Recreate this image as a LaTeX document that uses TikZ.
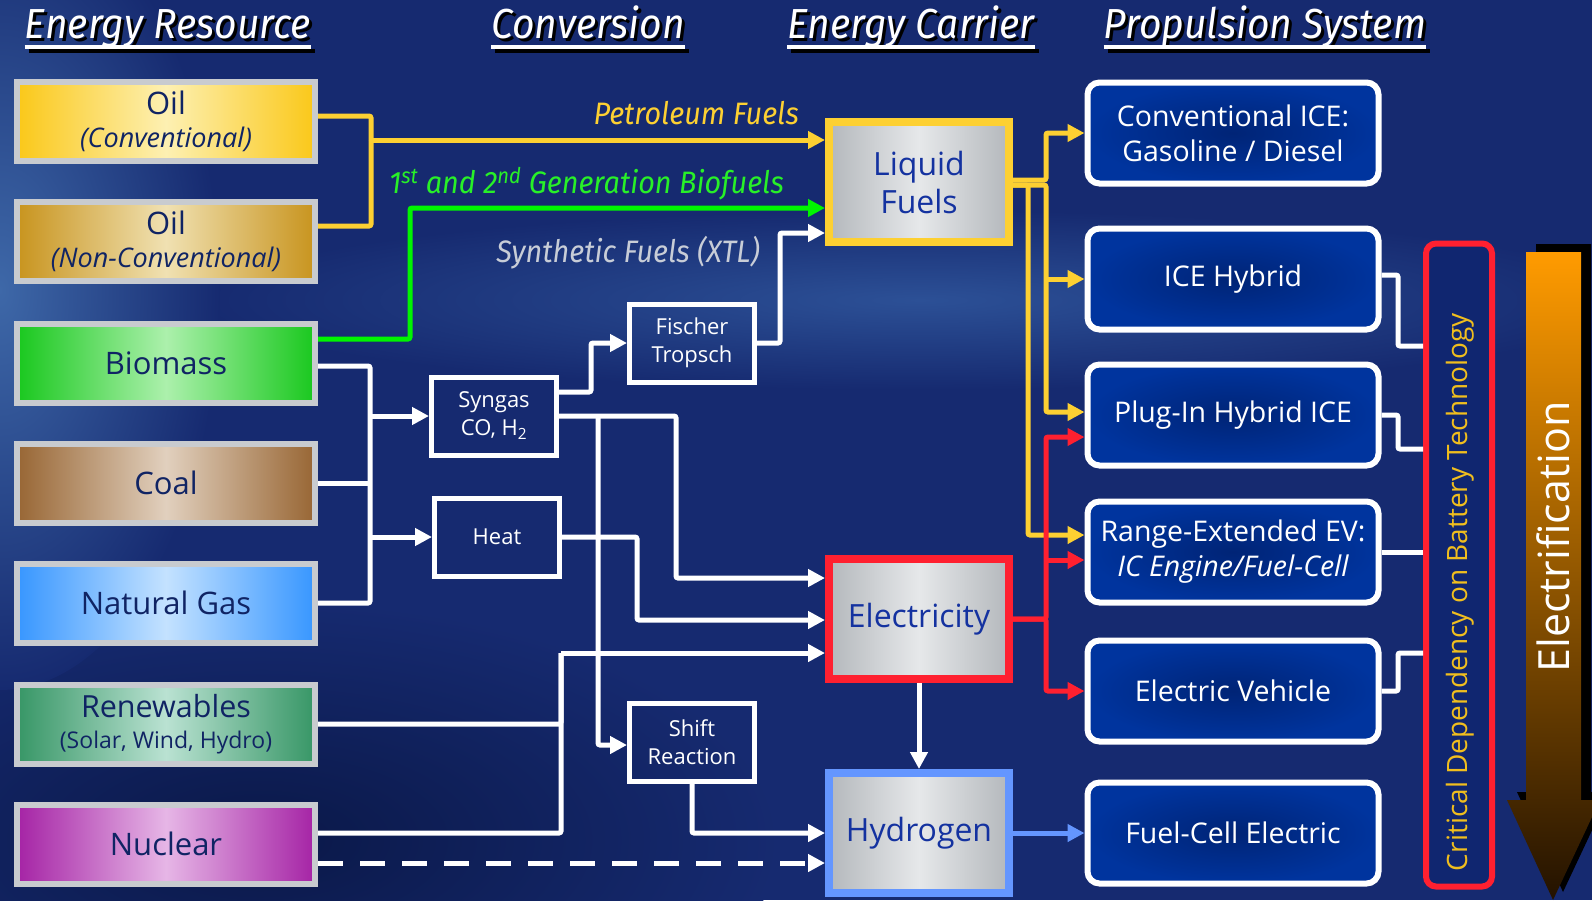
\documentclass[tikz,border=0pt]{standalone}
\usepackage{fontspec}
\setmainfont{Open Sans}
\newfontfamily\condfont[FakeStretch=0.93]{Fira Sans}
\usetikzlibrary{arrows.meta,calc}

\definecolor{bgnavy}{RGB}{22,42,112}
\definecolor{bglight}{RGB}{62,104,168}
\definecolor{bgmid}{RGB}{44,80,150}
\definecolor{bgdark}{RGB}{10,24,72}
\definecolor{resgray}{RGB}{200,203,207}
\definecolor{txtnavy}{RGB}{16,36,100}
\definecolor{oilA}{RGB}{250,200,25}
\definecolor{oilAm}{RGB}{253,240,178}
\definecolor{oilB}{RGB}{200,148,30}
\definecolor{oilBm}{RGB}{240,225,178}
\definecolor{bioC}{RGB}{25,200,30}
\definecolor{bioCm}{RGB}{172,240,172}
\definecolor{coalC}{RGB}{152,102,52}
\definecolor{coalCm}{RGB}{225,208,190}
\definecolor{gasC}{RGB}{55,150,255}
\definecolor{gasCm}{RGB}{196,226,255}
\definecolor{renC}{RGB}{55,150,102}
\definecolor{renCm}{RGB}{186,226,210}
\definecolor{nucC}{RGB}{165,35,165}
\definecolor{nucCm}{RGB}{230,182,230}
\definecolor{fuelyellow}{RGB}{253,208,50}
\definecolor{biogreen}{RGB}{0,245,0}
\definecolor{biolabel}{RGB}{40,240,40}
\definecolor{elecred}{RGB}{255,32,48}
\definecolor{hydblue}{RGB}{100,150,255}
\definecolor{carrgray}{RGB}{180,184,188}
\definecolor{carrlight}{RGB}{230,232,234}
\definecolor{carrtext}{RGB}{20,50,160}
\definecolor{propblue}{RGB}{0,52,158}
\definecolor{propdark}{RGB}{0,36,118}
\definecolor{critfill}{RGB}{16,38,112}
\definecolor{crityellow}{RGB}{240,190,30}
\definecolor{xtlgray}{RGB}{200,205,215}
\definecolor{elecorange}{RGB}{255,155,0}
\definecolor{elecbrown}{RGB}{35,18,0}

\newcommand\hdrtext[1]{\makebox[0pt][l]{\kern3pt\raisebox{-3pt}{\color{black}#1}}#1}

\begin{document}
\begin{tikzpicture}[x=1pt, y=-1pt,
    >={Triangle[length=17pt,width=17pt]},
    res/.style={draw=resgray, line width=6pt, minimum width=298pt, minimum height=79pt,
      inner sep=0pt, align=center, text=txtnavy, font=\fontsize{31}{33}\selectfont},
    resshade/.style 2 args={left color=#1, right color=#1, middle color=#2},
    conv/.style={draw=white, line width=5pt, minimum width=125pt, minimum height=78pt,
      inner sep=0pt, align=center, text=white, font=\fontsize{22}{28}\selectfont},
    carrier/.style={line width=8pt, minimum width=180pt, minimum height=120pt, align=center,
      text=carrtext, left color=carrgray, right color=carrgray, middle color=carrlight,
      font=\fontsize{32}{38}\selectfont},
    prop/.style={draw=white, line width=6pt, rounded corners=12pt, minimum width=291pt,
      minimum height=101pt, align=center, text=white, inner color=propdark,
      outer color=propblue, font=\fontsize{28.5}{35}\selectfont},
    hdr/.style={text=white, font=\condfont\itshape\fontsize{42}{44}\selectfont,
      inner sep=0pt, anchor=base},
    hdrline/.style={white, line width=4.5pt},
    lbl/.style={font=\condfont\itshape\fontsize{31}{33}\selectfont, inner sep=0pt, anchor=base east},
    wline/.style={white, line width=5pt, rounded corners=2pt},
    link/.style={wline, ->},
    fuel/.style={link, fuelyellow},
    bio/.style={link, biogreen},
    power/.style={link, elecred},
    h2/.style={link, hydblue},
  ]
  \useasboundingbox (0,0) rectangle (1592,900);
  % background
  \fill[bgnavy] (0,0) rectangle (1592,900);
  \shade[inner color=bgmid, outer color=bgnavy] (920,300) ellipse (720 and 90);
  \shade[inner color=bgdark, outer color=bgnavy] (260,840) ellipse (520 and 240);
  \shade[inner color=bglight, outer color=bgnavy] (0,290) ellipse (220 and 400);

  % headers
  \node[hdr] (hdres) at (168,38) {\hdrtext{Energy Resource}};
  \node[hdr] (hdconv) at (588,38) {\hdrtext{Conversion}};
  \node[hdr] (hdcarr) at (911,38) {\hdrtext{Energy Carrier}};
  \node[hdr] (hdprop) at (1265,38) {\hdrtext{Propulsion System}};
  \foreach \h in {hdres,hdconv,hdcarr,hdprop} {
    \draw[black, line width=4.5pt] ($(\h.base west)+(4,13)$) -- ($(\h.base east)+(4,13)$);
    \draw[hdrline] ($(\h.base west)+(0,9)$) -- ($(\h.base east)+(0,9)$);
  }

  % energy resources
  \node[res, resshade={oilA}{oilAm}] (oilconv) at (166,121)
    {Oil\\{\fontsize{27}{28}\selectfont\itshape (Conventional)}};
  \node[res, resshade={oilB}{oilBm}] (oilnc) at (166,241)
    {Oil\\{\fontsize{27}{28}\selectfont\itshape (Non-Conventional)}};
  \node[res, resshade={bioC}{bioCm}] (biomass) at (166,363) {Biomass};
  \node[res, resshade={coalC}{coalCm}] (coal) at (166,483) {Coal};
  \node[res, resshade={gasC}{gasCm}] (natgas) at (166,603) {Natural Gas};
  \node[res, resshade={renC}{renCm}, font=\fontsize{30.5}{31}\selectfont] (renew) at (166,724)
    {Renewables\\{\fontsize{23}{25}\selectfont (Solar, Wind, Hydro)}};
  \node[res, resshade={nucC}{nucCm}] (nuclear) at (166,844) {Nuclear};

  % conversion
  \node[conv] (syngas) at (494,416) {Syngas\\CO, H\textsubscript{2}};
  \node[conv] (heat) at (497,537) {Heat};
  \node[conv] (fischer) at (692,343) {Fischer\\Tropsch};
  \node[conv] (shift) at (692,742) {Shift\\Reaction};

  % energy carriers
  \node[carrier, draw=fuelyellow] (liquid) at (919,182) {Liquid\\Fuels};
  \node[carrier, draw=elecred] (elec) at (919,619) {Electricity};
  \node[carrier, draw=hydblue] (hydrogen) at (919,833) {Hydrogen};

  % propulsion
  \node[prop] (convice) at (1233,133) {Conventional ICE:\\Gasoline / Diesel};
  \node[prop] (icehyb) at (1233,279) {ICE Hybrid};
  \node[prop] (phev) at (1233,415) {Plug-In Hybrid ICE};
  \node[prop] (rangeev) at (1233,552) {Range-Extended EV:\\\itshape IC Engine/Fuel-Cell};
  \node[prop] (ev) at (1233,691) {Electric Vehicle};
  \node[prop] (fcev) at (1233,833) {Fuel-Cell Electric};

  % battery dependency
  \node[draw=elecred, line width=6pt, rounded corners=10pt, fill=critfill,
    minimum width=66pt, minimum height=643pt] (crit) at (1459,565) {};
  \node[rotate=90, text=crityellow, font=\fontsize{28}{30}\selectfont] (critlbl) at (1460,592)
    {Critical Dependency on Battery Technology};

  % electrification arrow
  \fill[black, shift={(10,-8)}] (1526,252) -- (1581,252) -- (1581,800) -- (1600,800)
    -- (1553,900) -- (1507,800) -- (1526,800) -- cycle;
  \shade[top color=elecorange, bottom color=elecbrown] (1526,252) -- (1581,252) -- (1581,800)
    -- (1600,800) -- (1553,900) -- (1507,800) -- (1526,800) -- cycle;
  \node[rotate=90, text=white, font=\fontsize{43}{46}\selectfont] (electrif) at (1553,537)
    {Electrification};

  % resource -> carrier
  \coordinate (oiljoin) at (371,140);
  \draw[fuel, -] ($(oilconv.east)+(0,-5)$) -| (oiljoin);
  \draw[fuel, -] ($(oilnc.east)+(0,-15)$) -| (oiljoin);
  \draw[fuel] (oiljoin) -- (oiljoin -| liquid.west);
  \node[lbl, text=fuelyellow] (petrol) at (799,124) {Petroleum Fuels};
  \coordinate (biobend) at (410,208);
  \draw[bio] ($(biomass.east)+(0,-24)$) -| (biobend) -- (biobend -| liquid.west);
  \node[lbl, text=biolabel] (biofuel) at (784,193)
    {1\textsuperscript{st} and 2\textsuperscript{nd} Generation Biofuels};
  \coordinate (xtlbend) at (780,233);
  \draw[link] (fischer.east) -| (xtlbend) -- (xtlbend -| liquid.west);
  \node[lbl, text=xtlgray] (xtl) at (760,262) {Synthetic Fuels (XTL)};

  % resource -> conversion
  \coordinate (coll) at (370,416);
  \draw[wline] ($(biomass.east)+(0,3)$) -| (coll |- natgas.east) -- (natgas.east);
  \draw[wline] (coal.east) -- (coal.east -| coll);
  \draw[link] (coll |- syngas.west) -- (syngas.west);
  \draw[link] (coll |- heat.west) -- (heat.west);

  % conversion -> carrier
  \coordinate (ftbend) at (591,343);
  \draw[link] ($(syngas.east)+(0,-24)$) -| (ftbend) -- (fischer.west);
  \coordinate (sgelec) at (676,578);
  \draw[link] (syngas.east) -| (sgelec) -- (sgelec -| elec.west);
  \coordinate (sgshift) at (598,745);
  \draw[link] (syngas.east -| sgshift) -- (sgshift) -- (sgshift -| shift.west);
  \coordinate (heatbend) at (637,620);
  \draw[link] (heat.east) -| (heatbend) -- (heatbend -| elec.west);
  \coordinate (rnbend) at (561,653);
  \draw[wline] (renew.east) -| (rnbend);
  \draw[wline] ($(nuclear.east)+(0,-11)$) -| (rnbend);
  \draw[link] (rnbend) -- (rnbend -| elec.west);
  \draw[link, dash pattern=on 25pt off 17pt] ($(nuclear.east)+(0,19)$) -- ($(hydrogen.west)+(0,30)$);
  \draw[link] (shift.south) |- (hydrogen.west);
  \draw[link] (elec.south) -- (hydrogen.north);

  % carrier -> propulsion
  \coordinate (lfA) at (1046,180);
  \coordinate (lfB) at (1028,185);
  \coordinate (phevY) at ($(phev.west)+(0,-3)$);
  \coordinate (revY) at ($(rangeev.west)+(0,-17)$);
  \coordinate (phevR) at ($(phev.west)+(0,22)$);
  \coordinate (revR) at ($(rangeev.west)+(0,8)$);
  \draw[fuel] ($(liquid.east)+(0,-2)$) -| (lfA |- convice.west) -- (convice.west);
  \draw[fuel] ($(liquid.east)+(0,3)$) -| (lfB |- revY) -- (revY);
  \draw[fuel] ($(liquid.east)+(0,3)$) -| (lfA |- phevY) -- (phevY);
  \draw[fuel] (lfA |- icehyb.west) -- (icehyb.west);
  \draw[power] (elec.east) -| (lfA |- phevR) -- (phevR);
  \draw[power] (elec.east) -| (lfA |- ev.west) -- (ev.west);
  \draw[power] (lfA |- revR) -- (revR);
  \draw[h2] (hydrogen.east) -- (fcev.west);

  % propulsion -> battery dependency
  \coordinate (hybcrit) at (1398,346);
  \coordinate (phevcrit) at (1398,449);
  \coordinate (evcrit) at (1398,653);
  \draw[wline] ($(icehyb.east)+(0,-4)$) -| (hybcrit) -- (hybcrit -| crit.west);
  \draw[wline] (phev.east) -| (phevcrit) -- (phevcrit -| crit.west);
  \draw[wline] (rangeev.east) -- (rangeev.east -| crit.west);
  \draw[wline] (ev.east) -| (evcrit) -- (evcrit -| crit.west);
\end{tikzpicture}
\end{document}
